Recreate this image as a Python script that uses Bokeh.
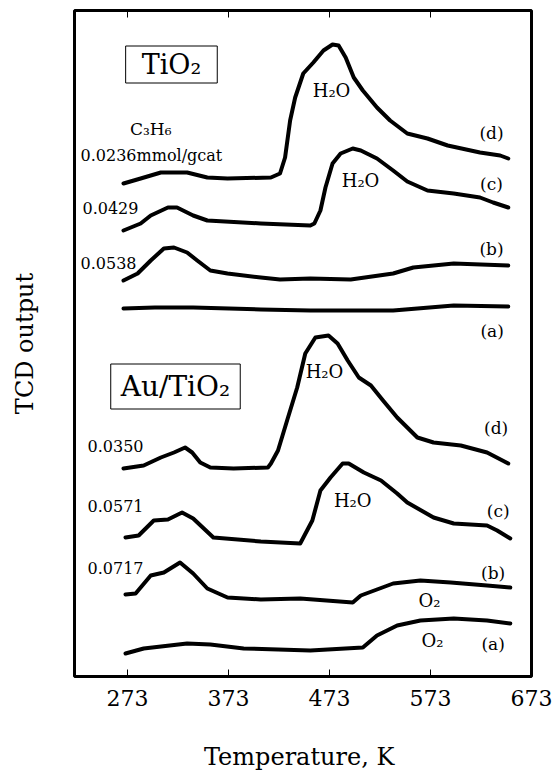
from bokeh.plotting import figure
from bokeh.models import Range1d, LinearAxis, FixedTicker, Label, CustomJSTickFormatter
from bokeh.embed import file_html
from bokeh.resources import INLINE

# ---------------- data ----------------
temp_ticks = [273, 373, 473, 573, 673]

# TiO2 catalyst, TCD signal (arbitrary units, curves stacked)
tio2_d_T = [269, 286, 306, 332, 352, 372, 415, 424, 429, 434, 439, 447, 457, 467, 476, 482, 489, 497, 506, 520, 533, 550, 570, 590, 622, 642, 650]
tio2_d_s = [493, 498, 504, 504, 499, 498, 499, 503, 519, 556, 579, 603, 614, 626, 632, 631, 619, 599, 586, 569, 556, 543, 538, 531, 524, 521, 518]

tio2_c_T = [269, 286, 296, 313, 322, 338, 352, 405, 454, 458, 464, 469, 476, 484, 496, 504, 520, 536, 550, 570, 596, 622, 635, 650]
tio2_c_s = [446, 453, 461, 469, 469, 461, 456, 453, 451, 453, 466, 489, 513, 523, 528, 526, 518, 506, 495, 486, 483, 479, 474, 469]

tio2_b_T = [269, 283, 296, 309, 319, 332, 342, 355, 372, 405, 424, 454, 494, 536, 556, 596, 650]
tio2_b_s = [396, 403, 416, 428, 429, 424, 416, 406, 403, 399, 397, 398, 397, 403, 409, 413, 411]

tio2_a_T = [269, 300, 338, 405, 454, 494, 536, 596, 650]
tio2_a_s = [368, 369, 369, 367, 366, 366, 366, 371, 370]

# Au/TiO2 catalyst
au_d_T = [269, 289, 306, 319, 330, 337, 345, 355, 378, 412, 415, 422, 431, 441, 449, 459, 472, 481, 491, 502, 514, 526, 540, 550, 560, 576, 603, 629, 650]
au_d_s = [208, 211, 219, 224, 229, 224, 214, 209, 208, 209, 213, 226, 256, 289, 323, 339, 341, 333, 316, 299, 291, 276, 259, 249, 239, 234, 231, 224, 213]

au_c_T = [271, 284, 299, 313, 327, 338, 358, 405, 444, 456, 464, 474, 486, 492, 507, 524, 540, 550, 576, 596, 629, 639, 652]
au_c_s = [139, 141, 156, 157, 164, 158, 139, 135, 133, 156, 186, 199, 213, 213, 204, 196, 183, 174, 159, 153, 151, 146, 138]

au_b_T = [271, 281, 296, 309, 325, 338, 352, 372, 405, 444, 496, 504, 536, 563, 593, 629, 652]
au_b_s = [82, 83, 101, 104, 114, 103, 88, 79, 77, 78, 74, 81, 93, 96, 94, 91, 89]

au_a_T = [271, 289, 332, 355, 388, 454, 506, 520, 540, 563, 596, 629, 652]
au_a_s = [23, 28, 33, 32, 28, 26, 29, 41, 51, 56, 58, 56, 53]

loading_labels = ["0.0236mmol/gcat", "0.0429", "0.0538", "0.0350", "0.0571", "0.0717"]
curve_tags = ["(d)", "(c)", "(b)", "(a)"]

# ---------------- figure ----------------
FONT = "DejaVu Serif"

p = figure(frame_width=457, frame_height=666,
           x_range=Range1d(220.5, 673), y_range=Range1d(0, 666),
           output_backend="svg", toolbar_location=None,
           min_border_left=74, min_border_right=24, min_border_top=10, min_border_bottom=97,
           x_axis_location=None, y_axis_location=None)
p.background_fill_color = "white"
p.border_fill_color = "white"
p.xgrid.visible = False
p.ygrid.visible = False
p.outline_line_color = "black"
p.outline_line_width = 3
p.outline_line_alpha = 1.0

xb = LinearAxis(ticker=FixedTicker(ticks=temp_ticks), axis_label="Temperature,  K")
xb.axis_line_color = None
xb.major_tick_in = 7
xb.major_tick_out = 0
xb.major_tick_line_width = 1
xb.minor_tick_line_color = None
xb.major_label_standoff = 13
xb.major_label_text_font = FONT
xb.major_label_text_font_size = "22px"
xb.major_label_text_color = "black"
xb.axis_label_standoff = 34
xb.axis_label_text_font = FONT
xb.axis_label_text_font_size = "24px"
xb.axis_label_text_font_style = "normal"
xb.axis_label_text_color = "black"
p.add_layout(xb, "below")

xt = LinearAxis(ticker=FixedTicker(ticks=temp_ticks),
                formatter=CustomJSTickFormatter(code="return ''"))
xt.axis_line_color = None
xt.major_tick_in = 7
xt.major_tick_out = 0
xt.major_tick_line_width = 1
xt.minor_tick_line_color = None
xt.major_label_standoff = 0
xt.major_label_text_font_size = "1px"
p.add_layout(xt, "above")

yl = LinearAxis(ticker=FixedTicker(ticks=[]), axis_label="TCD output")
yl.axis_line_color = None
yl.major_tick_line_color = None
yl.minor_tick_line_color = None
yl.major_label_standoff = 0
yl.axis_label_standoff = 36
yl.axis_label_text_font = FONT
yl.axis_label_text_font_size = "24px"
yl.axis_label_text_font_style = "normal"
yl.axis_label_text_color = "black"
p.add_layout(yl, "left")

curves = [(tio2_d_T, tio2_d_s), (tio2_c_T, tio2_c_s), (tio2_b_T, tio2_b_s), (tio2_a_T, tio2_a_s),
          (au_d_T, au_d_s), (au_c_T, au_c_s), (au_b_T, au_b_s), (au_a_T, au_a_s)]
for xs, ys in curves:
    p.line(xs, ys, line_color="black", line_width=4, line_join="round", line_cap="round")


def lab(x, y, text, size="16px", align="left", **kw):
    p.add_layout(Label(x=x, y=y, text=text, text_font=FONT, text_font_size=size,
                       text_align=align, text_baseline="middle", text_color="black", **kw))


# boxed catalyst names
lab(316.5, 612, "TiO₂", size="27px", align="center",
    border_line_color="black", border_line_width=1, background_fill_color="white", padding=(16, 3))
lab(320.5, 290, "Au/TiO₂", size="28px", align="center",
    border_line_color="black", border_line_width=1, background_fill_color="white", padding=(10, 6))

# reactant and loadings
lab(296, 548, "C₃H₆", size="17px", align="center")
for (x, y), t in zip([(226.5, 521), (228.4, 469), (226.5, 414), (233.4, 231), (233.4, 171), (233.4, 109)],
                     loading_labels):
    lab(x, y, t, size="16px")

# desorbed species
for x, y in [(475, 586), (503.7, 496), (468, 305), (496, 176)]:
    lab(x, y, "H₂O", size="18px", align="center")
for x, y in [(572, 76), (575, 36)]:
    lab(x, y, "O₂", size="18px", align="center")

# curve tags
for (x, y), t in zip([(633.4, 544), (633.4, 493), (633.4, 428), (634, 346)], curve_tags):
    lab(x, y, t, size="17px", align="center")
for (x, y), t in zip([(638, 249), (640, 166), (635, 104), (635, 33)], curve_tags):
    lab(x, y, t, size="17px", align="center")

open("out.html", "w").write(file_html(p, INLINE))
